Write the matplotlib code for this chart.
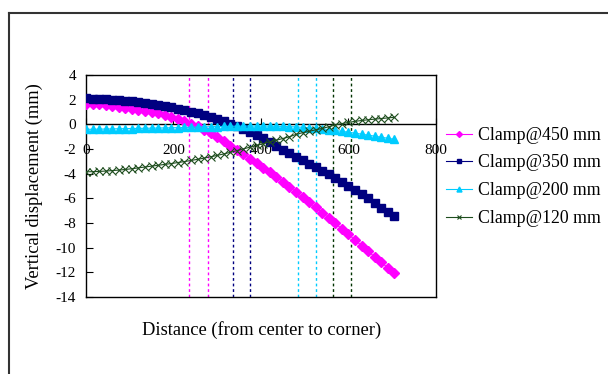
import matplotlib
matplotlib.use("Agg")
import matplotlib.pyplot as plt
from matplotlib.lines import Line2D

plt.rcParams['font.family'] = ['Liberation Serif', 'DejaVu Serif']
plt.rcParams['font.size'] = 10.5
plt.rcParams['axes.unicode_minus'] = False

# distance from center to corner (mm)
distance = [0, 15, 30, 45, 60, 75, 90, 105, 120, 135, 150, 165, 180, 195, 210, 225,
            240, 255, 270, 285, 300, 315, 330, 345, 360, 375, 390, 405, 420, 435, 450, 465,
            480, 495, 510, 525, 540, 555, 570, 585, 600, 615, 630, 645, 660, 675, 690, 705]

clamp_450 = [1.65, 1.64, 1.62, 1.56, 1.49, 1.42, 1.35, 1.28, 1.20, 1.12, 1.02, 0.91, 0.76, 0.59, 0.42, 0.24,
             0.05, -0.16, -0.43, -0.73, -1.05, -1.38, -1.72, -2.07, -2.42, -2.80, -3.16, -3.52, -3.88, -4.26, -4.65, -5.06,
             -5.48, -5.90, -6.32, -6.74, -7.16, -7.60, -8.04, -8.48, -8.92, -9.38, -9.84, -10.30, -10.75, -11.20, -11.62, -12.05]

clamp_350 = [2.10, 2.09, 2.07, 2.04, 2.00, 1.96, 1.92, 1.86, 1.80, 1.73, 1.65, 1.56, 1.47, 1.37, 1.26, 1.14,
             1.02, 0.89, 0.75, 0.60, 0.45, 0.26, 0.05, -0.17, -0.40, -0.63, -0.87, -1.11, -1.40, -1.72, -2.05, -2.36,
             -2.62, -2.90, -3.18, -3.48, -3.82, -4.06, -4.36, -4.70, -5.02, -5.32, -5.62, -5.98, -6.40, -6.76, -7.08, -7.42]

clamp_200 = [-0.40, -0.40, -0.39, -0.38, -0.37, -0.36, -0.35, -0.34, -0.33, -0.32, -0.31, -0.30, -0.29, -0.28, -0.27, -0.25,
             -0.24, -0.22, -0.21, -0.19, -0.18, -0.17, -0.16, -0.15, -0.15, -0.14, -0.14, -0.14, -0.15, -0.16, -0.17, -0.19,
             -0.21, -0.24, -0.28, -0.32, -0.37, -0.43, -0.50, -0.57, -0.64, -0.72, -0.80, -0.88, -0.96, -1.05, -1.13, -1.22]

clamp_120 = [-3.85, -3.84, -3.82, -3.79, -3.75, -3.71, -3.66, -3.60, -3.53, -3.46, -3.39, -3.32, -3.25, -3.18, -3.10, -3.02,
             -2.93, -2.84, -2.74, -2.63, -2.52, -2.40, -2.27, -2.13, -1.99, -1.85, -1.71, -1.57, -1.43, -1.29, -1.15, -1.01,
             -0.82, -0.68, -0.57, -0.45, -0.33, -0.20, -0.05, 0.06, 0.16, 0.24, 0.31, 0.37, 0.42, 0.47, 0.52, 0.57]

# clamp positions marked with dotted verticals
guide_x = [235, 279, 336, 375, 485, 526, 565, 606]
guide_colors = ['#FF00FF', '#FF00FF', '#000080', '#000080', '#00CCFF', '#00CCFF', '#003300', '#003300']

fig = plt.figure(figsize=(6.08, 3.74), dpi=100)
ax = fig.add_axes([0.1414, 0.2059, 0.5756, 0.5936])

for gx, gc in zip(guide_x, guide_colors):
    ax.axvline(gx, color=gc, lw=1, linestyle=(0, (2, 2)), zorder=1)

ax.axhline(0, color='black', lw=1, zorder=2)

ax.plot(distance, clamp_450, color='#FF00FF', marker='D', ms=5, lw=0.8, label='Clamp@450 mm', zorder=3)
ax.plot(distance, clamp_350, color='#000080', marker='s', ms=5.5, lw=0.8, label='Clamp@350 mm', zorder=3)
ax.plot(distance, clamp_200, color='#00CCFF', marker='^', ms=6, lw=0.8, label='Clamp@200 mm', zorder=3)
ax.plot(distance, clamp_120, color='#1E4D1E', marker='x', ms=6, mew=0.8, lw=0.8, label='Clamp@120 mm', zorder=3)

ax.set_xlim(0, 800)
ax.set_ylim(-14, 4)
ax.set_yticks(range(-14, 5, 2))
ax.tick_params(axis='y', direction='in', length=5, pad=7, labelsize=11)
ax.tick_params(axis='x', bottom=False, labelbottom=False)
for sp in ax.spines.values():
    sp.set_linewidth(1)

# x tick labels sit under the zero line
zero_pos = (0 - ax.get_ylim()[0]) / (ax.get_ylim()[1] - ax.get_ylim()[0])
sec = ax.secondary_xaxis(zero_pos)
sec.set_xticks([0, 200, 400, 600, 800])
sec.tick_params(top=False, labeltop=False, bottom=True, labelbottom=True,
                direction='in', length=4, pad=14, labelsize=11)
for sp in sec.spines.values():
    sp.set_visible(False)

ax.set_ylabel('Vertical displacement (mm)', fontsize=13.3, labelpad=9)
fig.text(0.43, 0.118, 'Distance (from center to corner)', ha='center', va='center', fontsize=13.3)

ax.legend(loc='upper left', bbox_to_anchor=(0.733, 0.661), bbox_transform=fig.transFigure,
          frameon=False, fontsize=12.8, handlelength=1.5, handletextpad=0.33,
          labelspacing=0.6, markerscale=0.6, borderaxespad=0, borderpad=0)

# outer chart border
fig.add_artist(Line2D([9 / 608, 1.0], [1 - 13 / 374, 1 - 13 / 374], transform=fig.transFigure,
                      color='#333333', lw=1.5))
fig.add_artist(Line2D([9 / 608, 9 / 608], [0, 1 - 13 / 374], transform=fig.transFigure,
                      color='#333333', lw=1.5))

fig.savefig('out.png', dpi=100)
